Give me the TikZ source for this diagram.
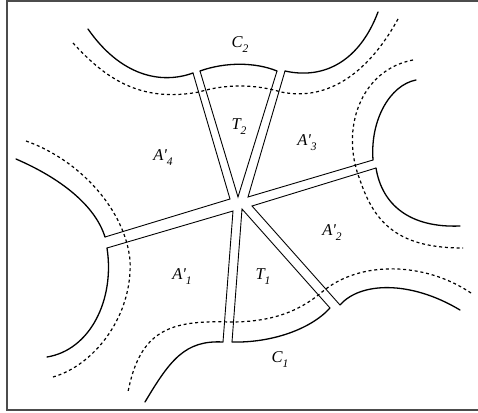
\documentclass[tikz,border=0pt]{standalone}
\usepackage{fontspec}
\setmainfont{Liberation Serif}
\newcommand\lbl[2]{\textit{#1\raisebox{-0.3em}{\fontsize{11.5}{11.5}\selectfont #2}}}
\begin{document}
\begin{tikzpicture}[x=1pt,y=-1pt,
  frame/.style={draw=black!70,line width=1.2pt},
  bdry/.style={draw=black,line width=1.3pt,line cap=round},
  strip/.style={draw=black,line width=0.9pt,line join=miter},
  dotc/.style={draw=black,line width=1.2pt,dash pattern=on 3pt off 2.8pt},
  lab/.style={font=\fontsize{16.5}{18}\selectfont,inner sep=0pt}]
\useasboundingbox (0,0) rectangle (478,412);
% frame
\coordinate (f1) at (480,1);
\coordinate (f2) at (7,1);
\coordinate (f3) at (7,410);
\coordinate (f4) at (480,410);
\draw[frame] (f1) -- (f2) -- (f3) -- (f4);
% strips (polylines)
\draw[strip] (193,73) -- (230,199) -- (105,237);
\draw[strip] (200,71) -- (238,197) -- (277,71);
\draw[strip] (285,71) -- (248,197) -- (373,160);
\draw[strip] (376,168) -- (252,206) -- (340,305);
\draw[strip] (330,308) -- (242,209) -- (232,342);
\draw[strip] (107,248) -- (233,211) -- (223,342);
% solid boundary curves
\draw[bdry] (200,71) .. controls (225,62) and (255,62) .. (277,71);
\draw[bdry] (88,29) .. controls (120,75) and (160,85) .. (193,73);
\draw[bdry] (285,71) .. controls (325,80) and (360,60) .. (378,12);
\draw[bdry] (373,160) .. controls (370,120) and (390,85) .. (416,80);
\draw[bdry] (376,168) .. controls (382,205) and (410,228) .. (460,226);
\draw[bdry] (340,305) .. controls (360,282) and (410,280) .. (460,310);
\draw[bdry] (232,342) .. controls (270,343) and (310,330) .. (330,308);
\draw[bdry] (223,342) .. controls (185,340) and (170,360) .. (145,402);
\draw[bdry] (107,248) .. controls (115,300) and (90,350) .. (47,357);
\draw[bdry] (16,159) .. controls (60,178) and (95,205) .. (105,237);
% dotted curves
\draw[dotc] (73,43) .. controls (105,78) and (140,103) .. (199,92)
  .. controls (225,84) and (255,84) .. (281,92)
  .. controls (330,102) and (370,70) .. (398,19);
\draw[dotc] (413,60) .. controls (360,70) and (340,130) .. (360,180)
  .. controls (375,225) and (400,248) .. (463,248);
\draw[dotc] (471,293) .. controls (425,262) and (360,260) .. (322,292)
  .. controls (295,315) and (265,322) .. (230,322)
  .. controls (170,320) and (140,330) .. (128,392);
\draw[dotc] (26,141) .. controls (80,160) and (125,210) .. (130,260)
  .. controls (133,315) and (95,365) .. (53,377);
% labels
\node[lab] (c2) at (240,45) {\lbl{C}{2}};
\node[lab] (t2) at (239,127) {\lbl{T}{2}};
\node[lab] (a4) at (163,158) {\lbl{A\textquotesingle}{4}};
\node[lab] (a3) at (307,143) {\lbl{A\textquotesingle}{3}};
\node[lab] (a2) at (332,233) {\lbl{A\textquotesingle}{2}};
\node[lab] (a1) at (182,277) {\lbl{A\textquotesingle}{1}};
\node[lab] (t1) at (263,277) {\lbl{T}{1}};
\node[lab] (c1) at (280,360) {\lbl{C}{1}};
\end{tikzpicture}
\end{document}
